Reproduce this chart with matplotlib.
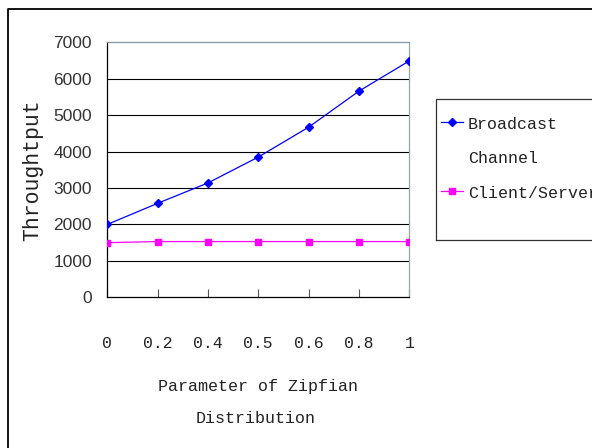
import matplotlib
matplotlib.use('Agg')
from matplotlib import pyplot as plt
from matplotlib.lines import Line2D
import numpy as np

# zipfian parameter values and measured throughput
zipf_params = ['0', '0.2', '0.4', '0.5', '0.6', '0.8', '1']
broadcast = [2000, 2580, 3140, 3850, 4670, 5660, 6490]
client_server = [1500, 1530, 1530, 1530, 1530, 1530, 1530]
series_names = ['Broadcast\nChannel', 'Client/Server']
y_ticks = [0, 1000, 2000, 3000, 4000, 5000, 6000, 7000]

W, H = 592, 448
mono = 'Liberation Mono'


def fx(px):
    return px / W


def fy(py):
    return 1 - py / H


fig = plt.figure(figsize=(W / 100, H / 100), dpi=100)
ax = fig.add_axes([fx(107.3), fy(297.3), (409.3 - 107.3) / W, (297.3 - 42.3) / H])

x = np.arange(len(zipf_params))
ax.plot(x, broadcast, color='#0000ff', lw=0.9, marker='D', ms=4.2, mec='#0000ff', mfc='#0000ff', zorder=3)
ax.plot(x, client_server, color='#ff00ff', lw=0.9, marker='s', ms=4.8, mec='#ff00ff', mfc='#ff00ff', zorder=3)

ax.set_xlim(0, len(zipf_params) - 1)
ax.set_ylim(0, 7000)
ax.set_yticks(y_ticks)
ax.set_yticklabels([str(v) for v in y_ticks], fontfamily='Liberation Sans', fontsize=12.5, color='#333333')
ax.set_xticks(x)
ax.set_xticklabels(zipf_params, fontfamily=mono, fontsize=11.8, color='#222222')
ax.tick_params(axis='y', length=0, pad=11)
ax.tick_params(axis='x', direction='in', length=6, width=0.8, color='#555555', pad=28)

for v in y_ticks[1:-1]:
    ax.axhline(v, color='black', lw=0.8, zorder=1)

ax.spines['left'].set_color('black')
ax.spines['bottom'].set_color('black')
ax.spines['top'].set_color('#7f99a3')
ax.spines['right'].set_color('#9aa4a8')
for s in ax.spines.values():
    s.set_linewidth(0.9)

# axis titles
fig.text(fx(33), fy(170), 'Throughtput', rotation=90, ha='center', va='center',
         fontfamily=mono, fontsize=15.5, color='#222222')
fig.text(fx(258), fy(391), 'Parameter of Zipfian', ha='center', va='baseline',
         fontfamily=mono, fontsize=12, color='#222222')
fig.text(fx(256), fy(423), 'Distribution', ha='center', va='baseline',
         fontfamily=mono, fontsize=12, color='#222222')

# legend box
lg_left, lg_top, lg_bottom = 435.7, 99.3, 240
box = [(lg_left, lg_bottom), (lg_left, lg_top), (620, lg_top)]
fig.add_artist(Line2D([fx(p[0]) for p in box], [fy(p[1]) for p in box], color='#333333', lw=0.9))
fig.add_artist(Line2D([fx(lg_left), fx(620)], [fy(lg_bottom), fy(lg_bottom)], color='#333333', lw=0.9))

fig.add_artist(Line2D([fx(441), fx(463)], [fy(122), fy(122)], color='#0000ff', lw=0.9,
                      marker='D', ms=4.2, markevery=[], mfc='#0000ff'))
fig.add_artist(Line2D([fx(452)], [fy(122)], color='#0000ff', marker='D', ms=4.2, lw=0))
fig.add_artist(Line2D([fx(441), fx(463)], [fy(191), fy(191)], color='#ff00ff', lw=0.9))
fig.add_artist(Line2D([fx(452)], [fy(191)], color='#ff00ff', marker='s', ms=4.8, lw=0))

fig.text(fx(468), fy(129), 'Broadcast', ha='left', va='baseline', fontfamily=mono, fontsize=12, color='#222222')
fig.text(fx(468), fy(163), 'Channel', ha='left', va='baseline', fontfamily=mono, fontsize=12, color='#222222')
fig.text(fx(468), fy(198), series_names[1], ha='left', va='baseline', fontfamily=mono, fontsize=12, color='#222222')

# outer chart border
fig.add_artist(Line2D([fx(8), fx(8), fx(620)], [fy(460), fy(9), fy(9)], color='black', lw=1.3))

fig.savefig('out.png', dpi=100)
